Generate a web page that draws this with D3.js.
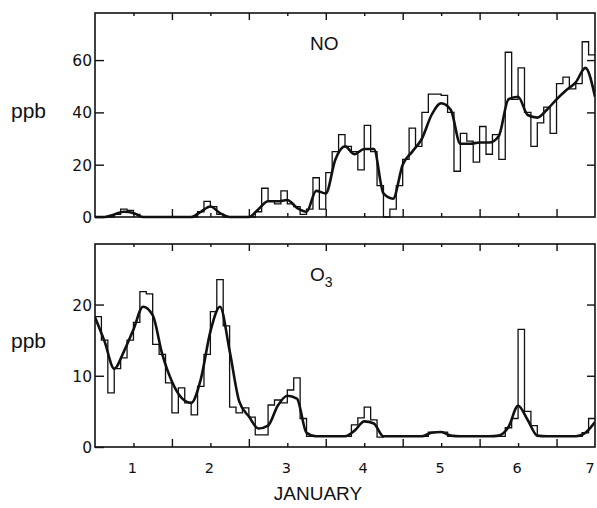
<!DOCTYPE html>
<html>
<head>
<meta charset="utf-8">
<script src="https://cdn.jsdelivr.net/npm/d3@7"></script>
<style>
  body { margin: 0; background: #fff; }
  svg text { fill: #111; }
</style>
</head>
<body>
<div id="chart"></div>
<script>
/*
 * NO and O3 concentrations, January days 0.5 .. 7
 */

// x axis: days of January
var dayStart = 0.5;
var dayEnd = 7;
var dayLabels = [1, 2, 3, 4, 5, 6, 7];

// y ticks of both panels
var noTicks = [0, 20, 40, 60];
var o3Ticks = [0, 10, 20];

// two-hour values (step trace), one per 1/12 day from day 0.5
var noSteps = [0, 0, 0, 1, 3, 2.5, 1, 0, 0, 0, 0, 0,
  0, 0, 0, 0, 2, 6, 4, 1, 0, 0, 0, 0,
  0, 2, 11, 6, 5, 10, 5, 4, 1, 3, 15, 3,
  17, 25, 31.5, 27, 25, 18, 35, 25, 12, 0, 3, 12,
  22, 34, 27, 40, 47, 47, 46.5, 40, 17.5, 32, 29, 21,
  34.6, 24, 31.5, 22, 63, 45, 57, 40, 27, 36, 42, 32,
  51, 53.5, 49, 51, 67, 62];

var o3Steps = [18.3, 15, 7.6, 11, 12.5, 15, 17.5, 21.8, 21.5, 14.4, 13, 9,
  4.8, 8.3, 6.2, 4.5, 8.5, 13, 19, 23.5, 17, 5.6, 4.8, 5.5,
  4.2, 1.7, 1.7, 5.9, 6.6, 6.2, 8, 9.7, 4, 1.5, 1.5, 1.5,
  1.5, 1.5, 1.5, 1.5, 3.1, 4.1, 5.6, 3.8, 1.4, 1.5, 1.5, 1.5,
  1.5, 1.5, 1.5, 1.5, 2.1, 2.1, 2.1, 1.5, 1.5, 1.5, 1.5, 1.5,
  1.5, 1.5, 1.5, 1.5, 2.7, 4, 16.5, 5, 3, 1.5, 1.5, 1.5,
  1.5, 1.5, 1.5, 1.5, 2, 4];

// smoothed curve, one value per 1/8 day from day 0.5 to 7
var noSmooth = [0, 0, 1, 2, 1.5, 0, 0, 0, 0,
  0, 0, 2, 4, 1.5, 0, 0, 0,
  3, 6, 6, 6.5, 3.5, 2, 10, 9,
  22, 27, 24, 26, 26, 9, 7, 20,
  25, 30, 39, 43.5, 41, 28, 28, 28.5,
  28.5, 31, 45, 46, 39, 38, 41, 45,
  48.5, 51.5, 57, 46];

var o3Smooth = [18.2, 14.8, 11, 13.4, 16.5, 19.7, 18.5, 13, 9.2,
  6.9, 6.2, 9.5, 16.2, 19.7, 13.5, 6.4, 4.3,
  2.6, 3, 5.8, 7.2, 6.8, 2, 1.5, 1.5,
  1.5, 1.5, 2.3, 3.6, 3.3, 1.5, 1.5, 1.5,
  1.5, 1.5, 2, 2.1, 1.6, 1.5, 1.5, 1.5,
  1.5, 1.6, 2.8, 5.8, 3.8, 1.6, 1.5, 1.5,
  1.5, 1.5, 2, 3.5];

var width = 597, height = 508;
var x = d3.scaleLinear().domain([dayStart, dayEnd]).range([95, 595]);

var svg = d3.select("#chart").append("svg")
  .attr("width", width).attr("height", height);

svg.append("defs").append("clipPath").attr("id", "clipall")
  .append("rect").attr("x", 95).attr("y", 0).attr("width", 500).attr("height", height);

/*
 * Draw one panel with its frame, ticks, step trace and smooth curve
 */
function drawPanel(top, bottom, ymax, ticks, steps, smooth, name){
  var y = d3.scaleLinear().domain([0, ymax]).range([bottom, top]);
  var g = svg.append("g");

  var stepPts = steps.map(function(v, i){ return [dayStart + i / 12, v]; });
  stepPts.push([dayEnd, steps[steps.length - 1]]);
  var smoothPts = smooth.map(function(v, i){ return [dayStart + i / 8, v]; });

  var lineStep = d3.line().curve(d3.curveStepAfter)
    .x(function(d){ return x(d[0]); }).y(function(d){ return y(d[1]); });
  var lineSmooth = d3.line().curve(d3.curveMonotoneX)
    .x(function(d){ return x(d[0]); }).y(function(d){ return y(d[1]); });

  var lines = g.append("g").attr("clip-path", "url(#clipall)");
  lines.append("path").attr("d", lineStep(stepPts))
    .attr("fill", "none").attr("stroke", "#111").attr("stroke-width", 1.3);
  lines.append("path").attr("d", lineSmooth(smoothPts))
    .attr("fill", "none").attr("stroke", "#111").attr("stroke-width", 2.6)
    .attr("stroke-linejoin", "round");

  // frame
  g.append("rect").attr("x", x(dayStart)).attr("y", top)
    .attr("width", x(dayEnd) - x(dayStart)).attr("height", bottom - top)
    .attr("fill", "none").attr("stroke", "#111").attr("stroke-width", 1.6);

  // y axes, ticks inward on both sides
  var left = d3.axisRight(y).tickValues(ticks).tickSize(9).tickFormat("");
  g.append("g").attr("transform", "translate(" + x(dayStart) + ",0)").call(left);
  var right = d3.axisLeft(y).tickValues(ticks.slice(1)).tickSize(8).tickFormat("");
  g.append("g").attr("transform", "translate(" + x(dayEnd) + ",0)").call(right);

  ticks.forEach(function(t){
    g.append("text").attr("x", 92).attr("y", y(t) + 6)
      .attr("text-anchor", "end")
      .style("font-family", "'DejaVu Sans', sans-serif").style("font-size", "15.5px")
      .text(t);
  });

  g.append("text").attr("x", 11).attr("y", y(ymax * 0.51) + 5)
    .style("font-family", "'Liberation Sans', Arial, sans-serif").style("font-size", "21px")
    .text("ppb");

  // x ticks at whole and half days, top and bottom, pointing inward
  var halfDays = d3.range(1.5, 7, 1);
  var days = d3.range(1, 7, 1);
  var xb = d3.axisTop(x).tickValues(halfDays).tickSize(8).tickFormat("");
  g.append("g").attr("transform", "translate(0," + bottom + ")").call(xb);
  var xbm = d3.axisTop(x).tickValues(days).tickSize(4).tickFormat("");
  g.append("g").attr("transform", "translate(0," + bottom + ")").call(xbm);
  var xt = d3.axisBottom(x).tickValues(halfDays).tickSize(7).tickFormat("");
  g.append("g").attr("transform", "translate(0," + top + ")").call(xt);
  var xtm = d3.axisBottom(x).tickValues(days).tickSize(3).tickFormat("");
  g.append("g").attr("transform", "translate(0," + top + ")").call(xtm);

  g.selectAll(".domain").remove();
  g.selectAll(".tick line").attr("stroke", "#111").attr("stroke-width", 1.4);

  var label = g.append("text").attr("x", 310).attr("y", top + 37)
    .style("font-family", "'Liberation Sans', Arial, sans-serif").style("font-size", "19px");
  if (name == "NO") {
    label.text("NO");
  } else {
    label.append("tspan").text("O");
    label.append("tspan").attr("dy", 6).style("font-size", "14px").text("3");
  }
  return y;
}

drawPanel(13, 217, 78, noTicks, noSteps, noSmooth, "NO");
drawPanel(244, 447, 28.5, o3Ticks, o3Steps, o3Smooth, "O3");

// day labels and axis title (last one kept inside the page)
svg.selectAll(".daylabel").data(dayLabels).enter().append("text")
  .attr("class", "daylabel")
  .attr("x", function(d){ return Math.min(x(d) - 1, 590); }).attr("y", 473)
  .attr("text-anchor", "middle")
  .style("font-family", "'DejaVu Sans', sans-serif").style("font-size", "14.5px")
  .text(function(d){ return d; });

svg.append("text").attr("x", 318).attr("y", 500).attr("text-anchor", "middle")
  .style("font-family", "'Liberation Sans', Arial, sans-serif").style("font-size", "19px")
  .text("JANUARY");
</script>
</body>
</html>
